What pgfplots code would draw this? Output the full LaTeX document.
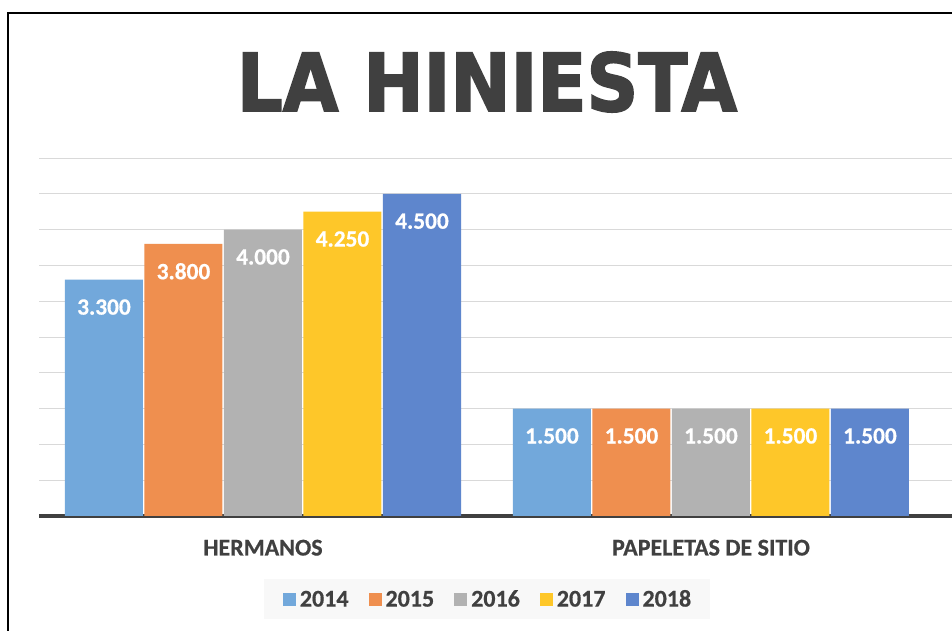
\documentclass[border=0pt]{standalone}
\usepackage{fontspec}
\setmainfont{Carlito}[BoldFeatures={FakeBold=0.6}]
\newfontfamily\titlefont{DejaVu Sans Condensed}[BoldFeatures={FakeBold=2}]
\usepackage{pgfplots}
\pgfplotsset{compat=1.18}
\definecolor{cA}{HTML}{72A8DB}
\definecolor{cB}{HTML}{EF8F4F}
\definecolor{cC}{HTML}{B2B2B2}
\definecolor{cD}{HTML}{FEC729}
\definecolor{cE}{HTML}{5E86CD}
\definecolor{tgray}{HTML}{404040}
\definecolor{gridc}{HTML}{D9D9D9}
\definecolor{legbg}{HTML}{F8F8F8}
\begin{document}
\begin{tikzpicture}[x=0.75pt,y=0.75pt]
\useasboundingbox (0,0) rectangle (952,631);
\fill[white] (0,0) rectangle (952,631);
\draw[black, line width=1.9pt] (8,0) -- (8,618) -- (952,618);
\node[font=\titlefont\bfseries\fontsize{60}{60}\selectfont, text=tgray, inner sep=0pt] at (487,549) {LA HINIESTA};
\begin{axis}[
  at={(29.25pt,86.25pt)}, anchor=south west,
  scale only axis, width=684.75pt, height=268.5pt,
  ymin=0, ymax=5000, xmin=-0.5, xmax=1.538,
  ybar=1.125pt, bar width=58.5pt,
  ytick={0,500,...,5000}, yticklabels={},
  ymajorgrids, grid style={color=gridc, line width=0.75pt},
  separate axis lines,
  axis x line*=bottom,
  y axis line style={draw=none},
  x axis line style={draw=tgray, line width=2.4pt, -},
  tick style={draw=none},
  xtick={0,1}, xticklabels={HERMANOS, PAPELETAS DE SITIO},
  xticklabel style={font=\bfseries\fontsize{18}{18}\selectfont, text=tgray, anchor=center, yshift=-19.5pt},
  point meta=explicit symbolic,
  nodes near coords,
  every node near coord/.append style={font=\bfseries\fontsize{17.5}{17.5}\selectfont, text=white, anchor=center, yshift=-20.5pt},
  legend columns=5,
  legend style={at={(0.4907,-0.2318)}, anchor=center, fill=legbg, draw=none,
    font=\bfseries\fontsize{18}{18}\selectfont, text=tgray,
    inner xsep=14pt, inner ysep=9.5pt,
    nodes={inner sep=0pt, text height=11.4pt, text depth=0pt},
    /tikz/every odd column/.append style={column sep=3pt},
    /tikz/every even column/.append style={column sep=15pt}},
  legend image code/.code={\fill[#1] (0pt,-5pt) rectangle (9.75pt,4.75pt);},
]
\addplot[fill=cA, draw=none] coordinates {(0,3300)[3.300] (1,1500)[1.500]};
\addplot[fill=cB, draw=none] coordinates {(0,3800)[3.800] (1,1500)[1.500]};
\addplot[fill=cC, draw=none] coordinates {(0,4000)[4.000] (1,1500)[1.500]};
\addplot[fill=cD, draw=none] coordinates {(0,4250)[4.250] (1,1500)[1.500]};
\addplot[fill=cE, draw=none] coordinates {(0,4500)[4.500] (1,1500)[1.500]};
\legend{2014,2015,2016,2017,2018}
\end{axis}
\end{tikzpicture}
\end{document}
